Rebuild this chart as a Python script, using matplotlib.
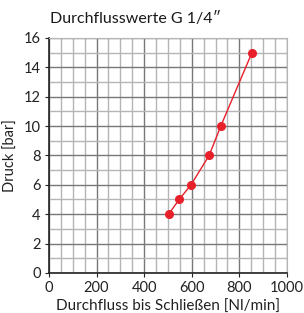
import numpy as np
import matplotlib.pyplot as plt
from matplotlib.ticker import MultipleLocator

# Durchfluss vs Druck, G 1/4"
durchfluss = [503, 547, 597, 673, 722, 853]   # Nl/min
druck = [4, 5, 6, 8, 10, 15]                  # bar

plt.rcParams['font.family'] = ['Lato', 'DejaVu Sans']

fig = plt.figure(figsize=(3.04, 3.13), dpi=100)
ax = fig.add_axes([0.161, 0.128, 0.783, 0.751])

ax.plot(durchfluss, druck, color="#e8202a", lw=1.0, marker="o", ms=5.5,
        mfc="#e8202a", mec="#e8202a", zorder=3)

ax.set_xlim(0, 1000)
ax.set_ylim(0, 16)
ax.xaxis.set_major_locator(MultipleLocator(200))
ax.xaxis.set_minor_locator(MultipleLocator(50))
ax.yaxis.set_major_locator(MultipleLocator(2))
ax.yaxis.set_minor_locator(MultipleLocator(1))
ax.grid(which="major", color="#777777", lw=1.0)
ax.grid(which="minor", color="#b5b5b5", lw=1.0)
ax.set_axisbelow(True)

for s in ["top", "right"]:
    ax.spines[s].set_color("#b5b5b5")
for s in ["left", "bottom"]:
    ax.spines[s].set_color("#222222")
    ax.spines[s].set_linewidth(1.2)

ax.tick_params(which="both", length=0, labelsize=10.5, colors="#222222", pad=3)
ax.tick_params(which="major", axis="y", length=3)
ax.tick_params(which="major", axis="x", length=3)

ax.set_xlabel("Durchfluss bis Schließen [Nl/min]", fontsize=11, color="#222222", labelpad=3)
ax.set_ylabel("Druck [bar]", fontsize=10.5, color="#222222", labelpad=4)
fig.text(0.165, 0.94, "Durchflusswerte G 1/4\u2033", fontsize=11.5, color="#1a1a1a",
         ha="left", va="center")

fig.savefig("out.png", dpi=100)
